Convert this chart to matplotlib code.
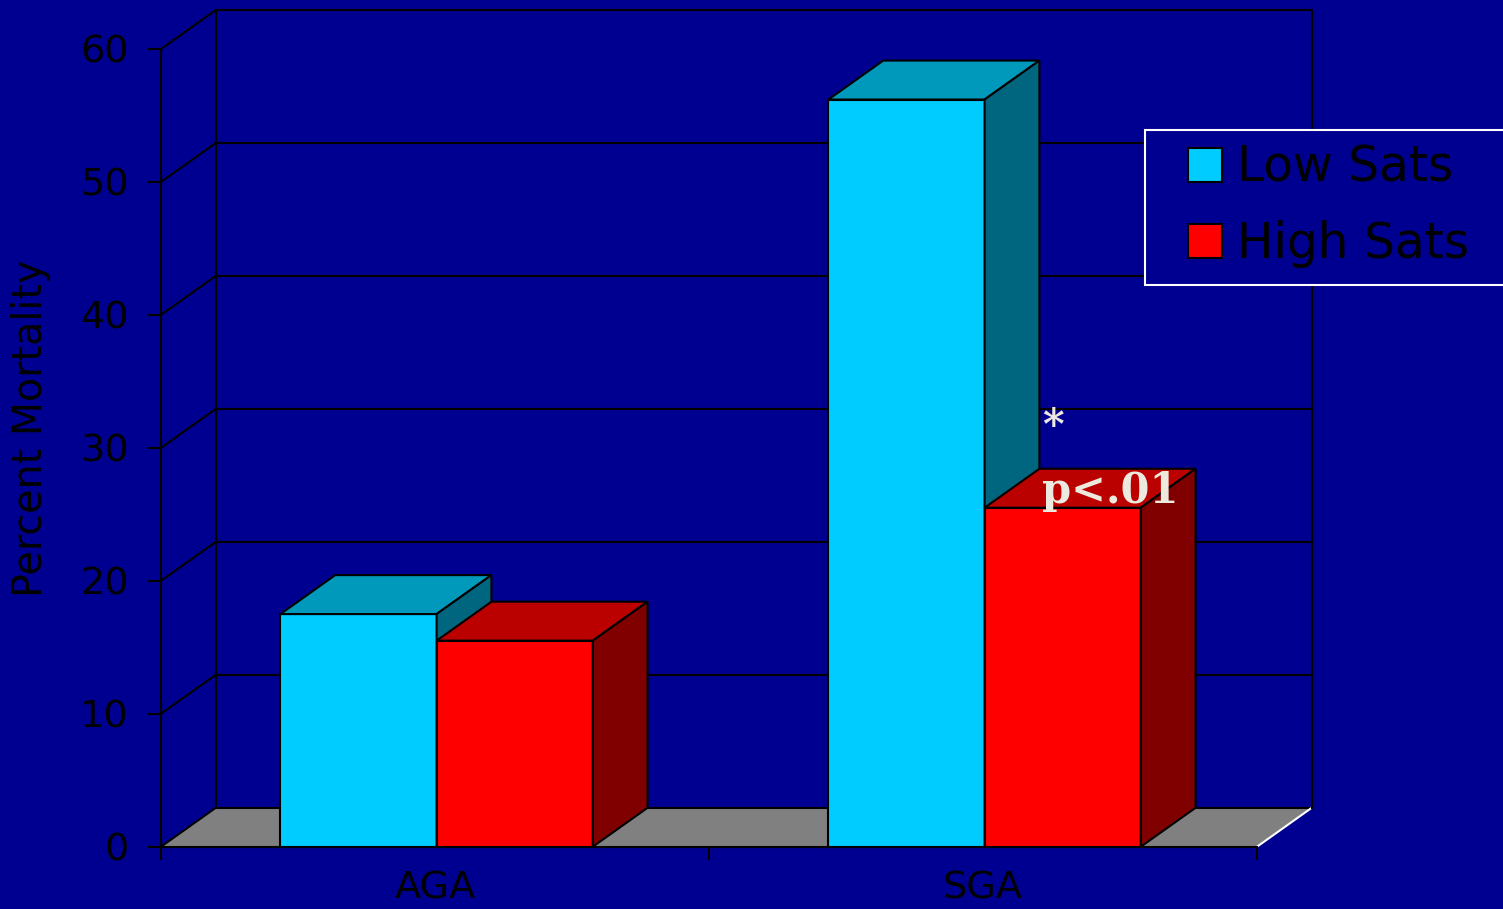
import matplotlib
matplotlib.use("Agg")
import matplotlib.pyplot as plt
from matplotlib.patches import Polygon, Patch, Rectangle

# percent mortality by birth-weight group and saturation target
groups = ["AGA", "SGA"]
series = ["Low Sats", "High Sats"]
low_sats = [17.5, 56.2]
high_sats = [15.5, 25.5]
yticks = [0, 10, 20, 30, 40, 50, 60]

navy = "#000090"
face_colors = {"Low Sats": "#00ccff", "High Sats": "#ff0000"}
top_colors = {"Low Sats": "#0099bb", "High Sats": "#bb0000"}
side_colors = {"Low Sats": "#006680", "High Sats": "#800000"}

# fake 3d depth, in data units
depth_x, depth_y = 0.1, 2.93
bar_w = 0.285
lw = 1.5

plt.rcParams['font.family'] = ['DejaVu Sans']

W, H = 1503, 909
fig = plt.figure(figsize=(W / 100, H / 100), dpi=100, facecolor=navy)
ax = fig.add_axes([0.1071, 0.0685, 0.7292, 0.8776])
ax.set_facecolor('none')
ax.set_xlim(0, len(groups))
ax.set_ylim(yticks[0], yticks[-1])

xmax = len(groups)
ymax = yticks[-1]

# floor
floor = Polygon([(0, 0), (xmax, 0), (xmax + depth_x, depth_y), (depth_x, depth_y)],
                closed=True, facecolor="#808080", edgecolor='none', clip_on=False, zorder=1)
ax.add_patch(floor)
ax.plot([depth_x, xmax + depth_x], [depth_y, depth_y], color='black', lw=lw, clip_on=False, zorder=1.2)
ax.plot([xmax, xmax + depth_x], [0, depth_y], color='white', lw=lw, clip_on=False, zorder=1.2)

# back wall outline
ax.plot([depth_x, depth_x, xmax + depth_x, xmax + depth_x],
        [depth_y, ymax + depth_y, ymax + depth_y, depth_y],
        color='black', lw=lw, clip_on=False, zorder=1.2)

# gridlines on back wall and side wall
for t in yticks:
    if 0 < t < ymax:
        ax.plot([depth_x, xmax + depth_x], [t + depth_y, t + depth_y],
                color='black', lw=lw, clip_on=False, zorder=1.2)
    ax.plot([0, depth_x], [t, t + depth_y], color='black', lw=lw, clip_on=False, zorder=1.2)

# bars, drawn left to right so nearer faces cover hidden ones
values = {"Low Sats": low_sats, "High Sats": high_sats}
z = 2
for gi, g in enumerate(groups):
    center = gi + 0.5
    for si, s in enumerate(series):
        h = values[s][gi]
        x0 = center - bar_w + si * bar_w + 0.003
        ax.bar(x0, h, width=bar_w, align='edge', color=face_colors[s],
               edgecolor='black', linewidth=lw, zorder=z, clip_on=False)
        top = Polygon([(x0, h), (x0 + bar_w, h), (x0 + bar_w + depth_x, h + depth_y),
                       (x0 + depth_x, h + depth_y)], closed=True,
                      facecolor=top_colors[s], edgecolor='black', lw=lw, zorder=z, clip_on=False)
        side = Polygon([(x0 + bar_w, 0), (x0 + bar_w + depth_x, depth_y),
                        (x0 + bar_w + depth_x, h + depth_y), (x0 + bar_w, h)], closed=True,
                       facecolor=side_colors[s], edgecolor='black', lw=lw, zorder=z, clip_on=False)
        ax.add_patch(top)
        ax.add_patch(side)
        z += 1

# significance marks on SGA high sats
ax.text(1.628, 31.6, "*", fontsize=30, fontweight='bold', family='DejaVu Serif',
        color='#ece9df', ha='center', va='center', zorder=20)
ax.text(1.732, 25.85, "p<.01", fontsize=30, fontweight='bold', family='DejaVu Serif',
        color='#ece9df', ha='center', va='baseline', zorder=20)

# axes
for sp in ['top', 'right']:
    ax.spines[sp].set_visible(False)
for sp in ['left', 'bottom']:
    ax.spines[sp].set_color('black')
    ax.spines[sp].set_linewidth(lw)
    ax.spines[sp].set_zorder(1.5)

ax.set_yticks(yticks)
ax.tick_params(axis='y', direction='out', length=9.4, width=lw, color='black',
               pad=13.7, labelsize=27.5, labelcolor='black')
ax.set_xticks(range(xmax + 1))
ax.set_xticklabels([])
ax.set_xticks([i + 0.5 for i in range(xmax)], minor=True)
ax.set_xticklabels(groups, minor=True)
ax.tick_params(axis='x', which='major', direction='out', length=9.4, width=lw, color='black')
ax.tick_params(axis='x', which='minor', length=0, pad=17, labelsize=27.5, labelcolor='black')

ax.set_ylabel("Percent Mortality", fontsize=28.5, color='black')
ax.yaxis.set_label_coords(-0.100, 0.525)

# legend box runs off the right edge
box = Rectangle((1145 / W, 1 - 285 / H), 380 / W, 155 / H, transform=fig.transFigure,
                facecolor=navy, edgecolor='white', linewidth=lw, zorder=3)
fig.add_artist(box)

handles = [Patch(facecolor=face_colors[s], edgecolor='black', linewidth=lw, label=s) for s in series]
leg = fig.legend(handles=handles, loc='upper left', bbox_to_anchor=(1188 / W, 1 - 144 / H),
                 borderaxespad=0, borderpad=0, fontsize=35, frameon=False,
                 handlelength=0.7, handleheight=0.7, handletextpad=0.3,
                 labelspacing=0.58, labelcolor='black')
leg.set_zorder(4)

fig.savefig("out.png", dpi=100, facecolor=navy)
